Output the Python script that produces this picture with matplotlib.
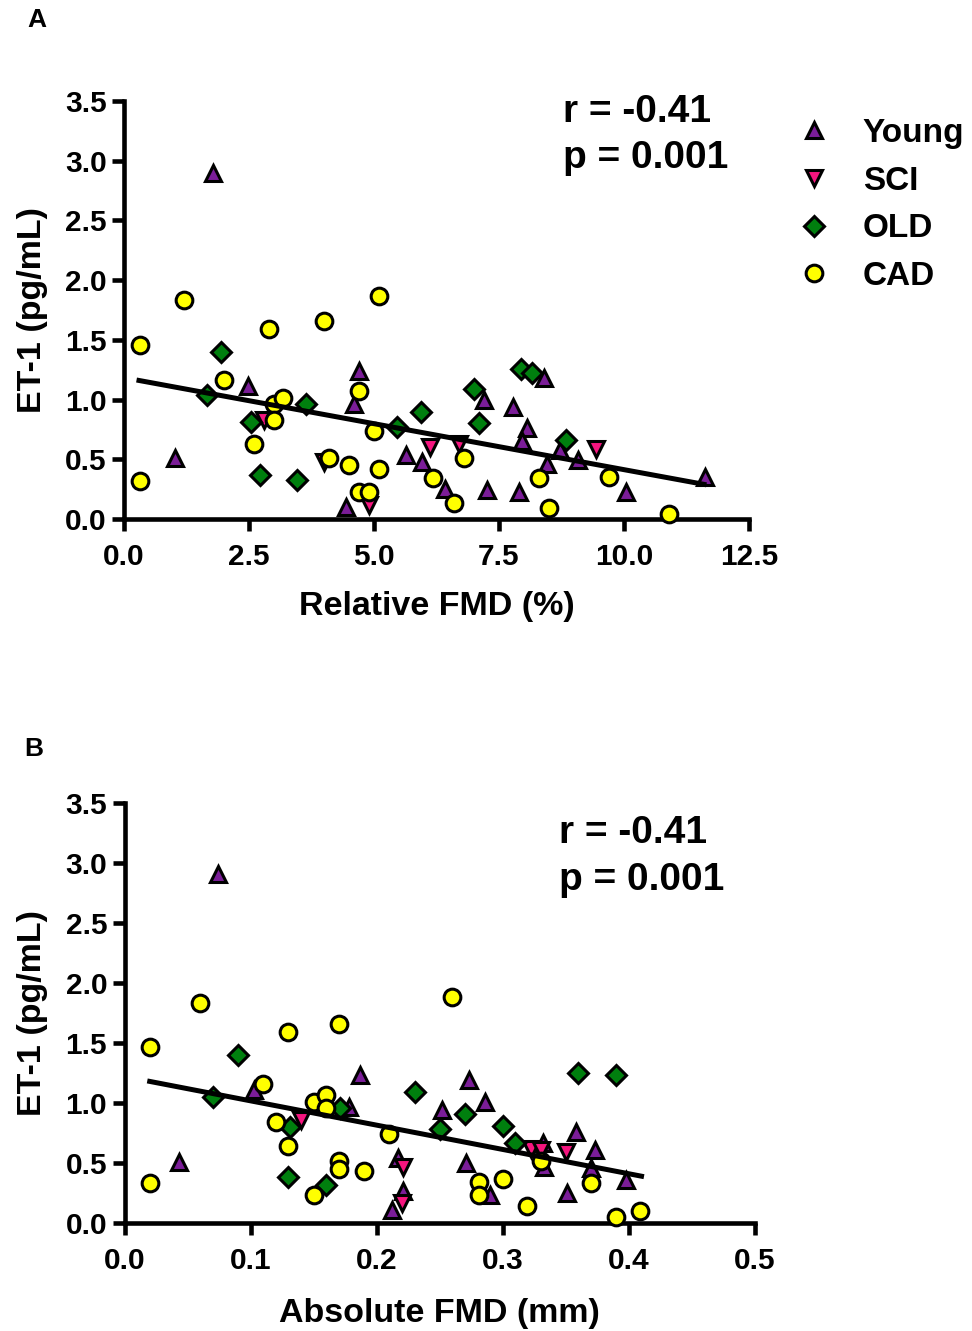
import numpy as np
import matplotlib
matplotlib.use('Agg')
import matplotlib.pyplot as plt

plt.rcParams['font.family'] = ['Liberation Sans', 'DejaVu Sans']
plt.rcParams['font.weight'] = 'bold'

###---data---###

# panel A : relative FMD (%) vs ET-1 (pg/mL)
young_rel_x = [1.78, 1.02, 2.47, 4.70, 4.60, 4.44, 5.64, 5.96, 6.42, 7.19, 7.77,
               8.05, 7.95, 8.39, 8.72, 8.45, 9.08, 7.25, 7.90, 10.03, 11.62]
young_rel_y = [2.90, 0.51, 1.11, 1.24, 0.96, 0.10, 0.54, 0.48, 0.25, 1.00, 0.94,
               0.76, 0.65, 1.18, 0.58, 0.46, 0.49, 0.24, 0.23, 0.23, 0.35]
sci_rel_x = [2.80, 4.00, 4.90, 6.12, 6.70, 9.43]
sci_rel_y = [0.83, 0.48, 0.12, 0.60, 0.63, 0.59]
old_rel_x = [1.94, 1.66, 2.54, 2.72, 3.45, 3.63, 5.45, 5.94, 7.00, 7.10, 7.94, 8.15, 8.84]
old_rel_y = [1.40, 1.04, 0.81, 0.37, 0.33, 0.96, 0.77, 0.90, 1.09, 0.80, 1.26, 1.22, 0.66]
cad_rel_x = [0.31, 0.31, 1.20, 2.00, 2.90, 4.00, 5.10, 4.70, 3.00, 3.18, 3.00, 2.60, 4.10,
             4.50, 5.10, 4.70, 4.90, 5.00, 6.18, 6.60, 6.80, 8.30, 8.50, 9.70, 10.90]
cad_rel_y = [1.46, 0.32, 1.83, 1.16, 1.59, 1.66, 1.87, 1.07, 0.96, 1.01, 0.83, 0.63, 0.51,
             0.45, 0.42, 0.23, 0.23, 0.74, 0.34, 0.13, 0.51, 0.34, 0.09, 0.35, 0.04]
fit_rel_x = [0.30, 11.60]
fit_rel_y = [1.16, 0.29]

# panel B : absolute FMD (mm) vs ET-1 (pg/mL)
young_abs_x = [0.074, 0.043, 0.103, 0.187, 0.178, 0.217, 0.221, 0.212, 0.252, 0.273,
               0.286, 0.271, 0.290, 0.332, 0.333, 0.358, 0.373, 0.370, 0.351, 0.398]
young_abs_y = [2.91, 0.51, 1.11, 1.23, 0.97, 0.54, 0.27, 0.11, 0.94, 1.19,
               1.01, 0.50, 0.23, 0.67, 0.47, 0.76, 0.61, 0.46, 0.25, 0.36]
sci_abs_x = [0.140, 0.221, 0.220, 0.322, 0.330, 0.350]
sci_abs_y = [0.86, 0.47, 0.17, 0.62, 0.61, 0.59]
old_abs_x = [0.090, 0.070, 0.131, 0.130, 0.160, 0.171, 0.230, 0.250, 0.270, 0.300, 0.310, 0.360, 0.390]
old_abs_y = [1.40, 1.05, 0.80, 0.38, 0.32, 0.96, 1.09, 0.78, 0.91, 0.81, 0.67, 1.25, 1.23]
cad_abs_x = [0.020, 0.020, 0.060, 0.110, 0.130, 0.170, 0.120, 0.130, 0.150, 0.160, 0.160, 0.170, 0.170,
             0.190, 0.150, 0.210, 0.260, 0.281, 0.281, 0.300, 0.330, 0.319, 0.370, 0.390, 0.409]
cad_abs_y = [1.47, 0.33, 1.83, 1.16, 1.59, 1.66, 0.84, 0.64, 1.01, 1.07, 0.96, 0.52, 0.45,
             0.43, 0.23, 0.74, 1.88, 0.34, 0.23, 0.37, 0.52, 0.14, 0.33, 0.05, 0.10]
fit_abs_x = [0.02, 0.41]
fit_abs_y = [1.18, 0.39]

group_names = ['Young', 'SCI', 'OLD', 'CAD']
group_markers = ['^', 'v', 'D', 'o']
group_colors = ['#7B1D98', '#F5157F', '#007F0E', '#FFFF00']
group_sizes = [11.5, 11.5, 10.5, 12]

stat_lines = ['r = -0.41', 'p = 0.001']

###---figure---###

W, H = 972, 1331
fig = plt.figure(figsize=(W / 100, H / 100), dpi=100)


def px_box(left, right, top, bottom):
    """axes rectangle in figure fractions from pixel edges"""
    return [left / W, 1 - bottom / H, (right - left) / W, (bottom - top) / H]


def style_axes(ax, xmax, xticks, xfmt):
    for side in ['top', 'right']:
        ax.spines[side].set_visible(False)
    for side in ['left', 'bottom']:
        ax.spines[side].set_linewidth(3.3)
    ax.set_xlim(0, xmax)
    ax.set_ylim(0, 3.5)
    ax.set_xticks(xticks)
    ax.set_xticklabels([xfmt % v for v in xticks])
    yt = np.arange(0, 3.51, 0.5)
    ax.set_yticks(yt)
    ax.set_yticklabels(['%.1f' % v for v in yt])
    ax.tick_params(direction='out', length=8.5, width=3.3, labelsize=21.5)
    ax.tick_params(axis='x', pad=8.5)
    ax.tick_params(axis='y', pad=4)
    for lab in ax.get_xticklabels() + ax.get_yticklabels():
        lab.set_fontweight('bold')


def draw_groups(ax, xs, ys, fx, fy):
    handles = []
    for x, y, name, m, c, s in zip(xs, ys, group_names, group_markers, group_colors, group_sizes):
        h, = ax.plot(x, y, linestyle='none', marker=m, markersize=s, markerfacecolor=c,
                     markeredgecolor='black', markeredgewidth=2.2, label=name, clip_on=False, zorder=3)
        handles.append(h)
    ax.plot(fx, fy, color='black', linewidth=3.6, zorder=4)
    return handles


# panel A
axA = fig.add_axes(px_box(124, 749, 101, 519))
style_axes(axA, 12.5, [0, 2.5, 5.0, 7.5, 10.0, 12.5], '%.1f')
hA = draw_groups(axA, [young_rel_x, sci_rel_x, old_rel_x, cad_rel_x],
                 [young_rel_y, sci_rel_y, old_rel_y, cad_rel_y], fit_rel_x, fit_rel_y)
axA.set_xlabel('Relative FMD (%)', fontsize=24.5, fontweight='bold')
axA.set_ylabel('ET-1 (pg/mL)', fontsize=24.5, fontweight='bold')
axA.xaxis.set_label_coords(0.5, -0.172)
axA.yaxis.set_label_coords(-0.121, 0.5)

# panel B
axB = fig.add_axes(px_box(124.5, 755, 803, 1223))
style_axes(axB, 0.5, [0, 0.1, 0.2, 0.3, 0.4, 0.5], '%.1f')
draw_groups(axB, [young_abs_x, sci_abs_x, old_abs_x, cad_abs_x],
            [young_abs_y, sci_abs_y, old_abs_y, cad_abs_y], fit_abs_x, fit_abs_y)
axB.set_xlabel('Absolute FMD (mm)', fontsize=24.5, fontweight='bold')
axB.set_ylabel('ET-1 (pg/mL)', fontsize=24.5, fontweight='bold')
axB.xaxis.set_label_coords(0.5, -0.178)
axB.yaxis.set_label_coords(-0.121, 0.5)

# stats text
for ypx, line in zip([122, 168], stat_lines):
    fig.text(563 / W, 1 - ypx / H, line, fontsize=28, fontweight='bold', va='baseline', ha='left')
for ypx, line in zip([843, 890], stat_lines):
    fig.text(559 / W, 1 - ypx / H, line, fontsize=28, fontweight='bold', va='baseline', ha='left')

# panel letters
fig.text(27 / W, 1 - 27 / H, 'A', fontsize=19, fontweight='bold', va='baseline')
fig.text(24 / W, 1 - 756 / H, 'B', fontsize=19, fontweight='bold', va='baseline')

# legend off to the right of panel A
fig.legend(handles=hA, loc='upper left', bbox_to_anchor=(797 / W, 1 - 118 / H),
           frameon=False, prop={'weight': 'bold', 'size': 24},
           handlelength=1.0, handletextpad=0.97, labelspacing=0.50,
           borderpad=0, borderaxespad=0)

fig.savefig('out.png', dpi=100)
